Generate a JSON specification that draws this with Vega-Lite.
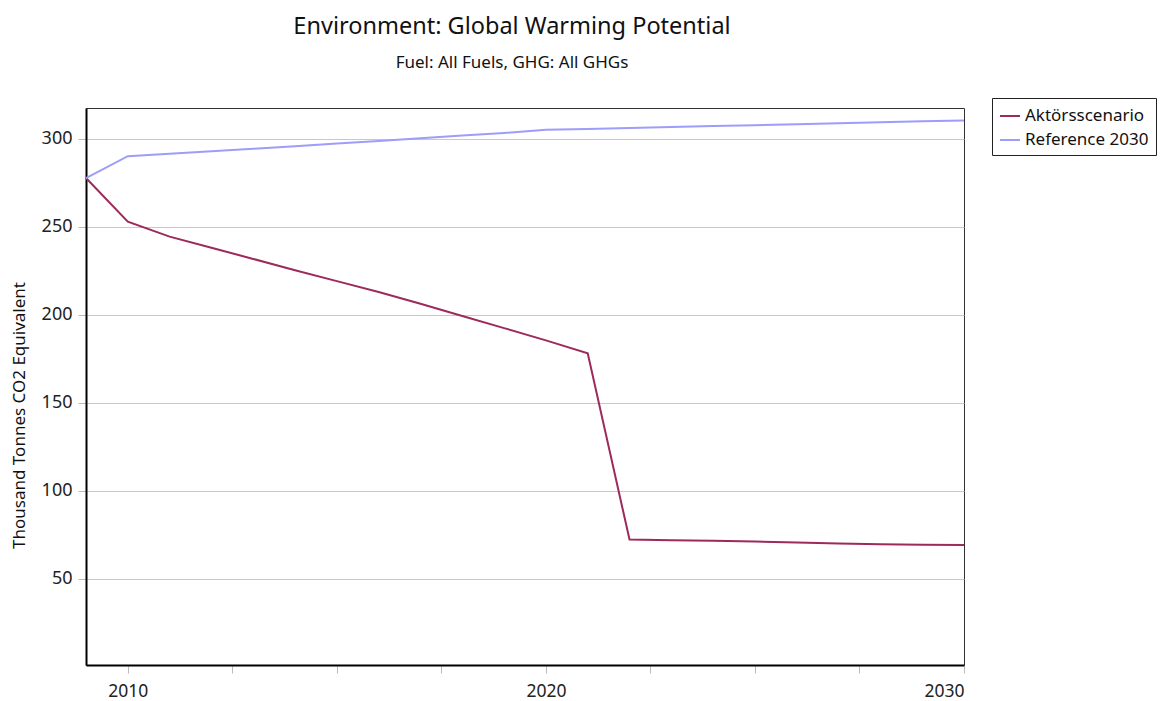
{
  "$schema": "https://vega.github.io/schema/vega-lite/v6.json",
  "autosize": "none",
  "width": 878,
  "height": 557,
  "padding": {"left": 86, "top": 108, "right": 197, "bottom": 36},
  "background": "white",
  "config": {
    "font": "Noto Sans",
    "view": {"stroke": "#333333", "strokeWidth": 1}
  },
  "title": {
    "text": "Environment: Global Warming Potential",
    "subtitle": "Fuel: All Fuels, GHG: All GHGs",
    "fontSize": 23.5,
    "fontWeight": "normal",
    "color": "#111111",
    "subtitleFontSize": 17,
    "subtitleColor": "#111111",
    "subtitlePadding": 16,
    "anchor": "middle",
    "dx": -13,
    "offset": 27
  },
  "data": {
    "values": [
      {"year": 2009, "series": "Aktörsscenario", "value": 277.8},
      {"year": 2010, "series": "Aktörsscenario", "value": 253.0},
      {"year": 2011, "series": "Aktörsscenario", "value": 244.5},
      {"year": 2012, "series": "Aktörsscenario", "value": 238.2},
      {"year": 2013, "series": "Aktörsscenario", "value": 231.8},
      {"year": 2014, "series": "Aktörsscenario", "value": 225.4},
      {"year": 2015, "series": "Aktörsscenario", "value": 219.2},
      {"year": 2016, "series": "Aktörsscenario", "value": 213.0},
      {"year": 2017, "series": "Aktörsscenario", "value": 206.3},
      {"year": 2018, "series": "Aktörsscenario", "value": 199.4},
      {"year": 2019, "series": "Aktörsscenario", "value": 192.5},
      {"year": 2020, "series": "Aktörsscenario", "value": 185.5},
      {"year": 2021, "series": "Aktörsscenario", "value": 178.2},
      {"year": 2022, "series": "Aktörsscenario", "value": 72.3},
      {"year": 2023, "series": "Aktörsscenario", "value": 71.9},
      {"year": 2024, "series": "Aktörsscenario", "value": 71.6},
      {"year": 2025, "series": "Aktörsscenario", "value": 71.2},
      {"year": 2026, "series": "Aktörsscenario", "value": 70.6},
      {"year": 2027, "series": "Aktörsscenario", "value": 70.1},
      {"year": 2028, "series": "Aktörsscenario", "value": 69.6},
      {"year": 2029, "series": "Aktörsscenario", "value": 69.4},
      {"year": 2030, "series": "Aktörsscenario", "value": 69.2},
      {"year": 2009, "series": "Reference 2030", "value": 277.8},
      {"year": 2010, "series": "Reference 2030", "value": 290.2},
      {"year": 2011, "series": "Reference 2030", "value": 291.6},
      {"year": 2012, "series": "Reference 2030", "value": 293.0},
      {"year": 2013, "series": "Reference 2030", "value": 294.4},
      {"year": 2014, "series": "Reference 2030", "value": 295.9},
      {"year": 2015, "series": "Reference 2030", "value": 297.4},
      {"year": 2016, "series": "Reference 2030", "value": 298.9},
      {"year": 2017, "series": "Reference 2030", "value": 300.4},
      {"year": 2018, "series": "Reference 2030", "value": 301.9},
      {"year": 2019, "series": "Reference 2030", "value": 303.4},
      {"year": 2020, "series": "Reference 2030", "value": 305.2},
      {"year": 2021, "series": "Reference 2030", "value": 305.7},
      {"year": 2022, "series": "Reference 2030", "value": 306.2},
      {"year": 2023, "series": "Reference 2030", "value": 306.8},
      {"year": 2024, "series": "Reference 2030", "value": 307.3},
      {"year": 2025, "series": "Reference 2030", "value": 307.8},
      {"year": 2026, "series": "Reference 2030", "value": 308.4},
      {"year": 2027, "series": "Reference 2030", "value": 308.9},
      {"year": 2028, "series": "Reference 2030", "value": 309.5},
      {"year": 2029, "series": "Reference 2030", "value": 310.0},
      {"year": 2030, "series": "Reference 2030", "value": 310.5}
    ]
  },
  "mark": {"type": "line", "strokeWidth": 2, "interpolate": "linear"},
  "encoding": {
    "x": {
      "field": "year",
      "type": "quantitative",
      "scale": {"domain": [2009, 2030], "nice": false, "zero": false},
      "axis": {
        "title": null,
        "grid": false,
        "values": [2010, 2012.5, 2015, 2017.5, 2020, 2022.5, 2025, 2027.5, 2030],
        "labelExpr": "datum.value % 10 === 0 ? datum.value : ''",
        "format": "d",
        "labelFontSize": 17.5,
        "labelColor": "#222222",
        "labelPadding": 9,
        "tickColor": "#bbbbbb",
        "tickSize": 8,
        "domainColor": "#000000",
        "domainWidth": 2
      }
    },
    "y": {
      "field": "value",
      "type": "quantitative",
      "scale": {"domain": [1, 317.6], "nice": false, "zero": false},
      "axis": {
        "title": "Thousand Tonnes CO2 Equivalent",
        "titleFontSize": 17,
        "titleFontWeight": "normal",
        "titleColor": "#111111",
        "titleX": -58,
        "titleY": 307,
        "titleAnchor": "middle",
        "values": [50, 100, 150, 200, 250, 300],
        "labelFontSize": 18,
        "labelColor": "#222222",
        "labelPadding": 6,
        "tickColor": "#bbbbbb",
        "tickSize": 8,
        "grid": true,
        "gridColor": "#c8c8c8",
        "domainColor": "#000000",
        "domainWidth": 2
      }
    },
    "color": {
      "field": "series",
      "type": "nominal",
      "scale": {"domain": ["Aktörsscenario", "Reference 2030"], "range": ["#9c2a5c", "#9d9dfa"]},
      "legend": {
        "title": null,
        "orient": "none",
        "legendX": 906,
        "legendY": -10,
        "symbolType": "stroke",
        "symbolStrokeWidth": 2,
        "symbolSize": 400,
        "labelFontSize": 17,
        "labelColor": "#111111",
        "strokeColor": "#222222",
        "padding": 7,
        "rowPadding": 5,
        "fillColor": "white"
      }
    }
  }
}
